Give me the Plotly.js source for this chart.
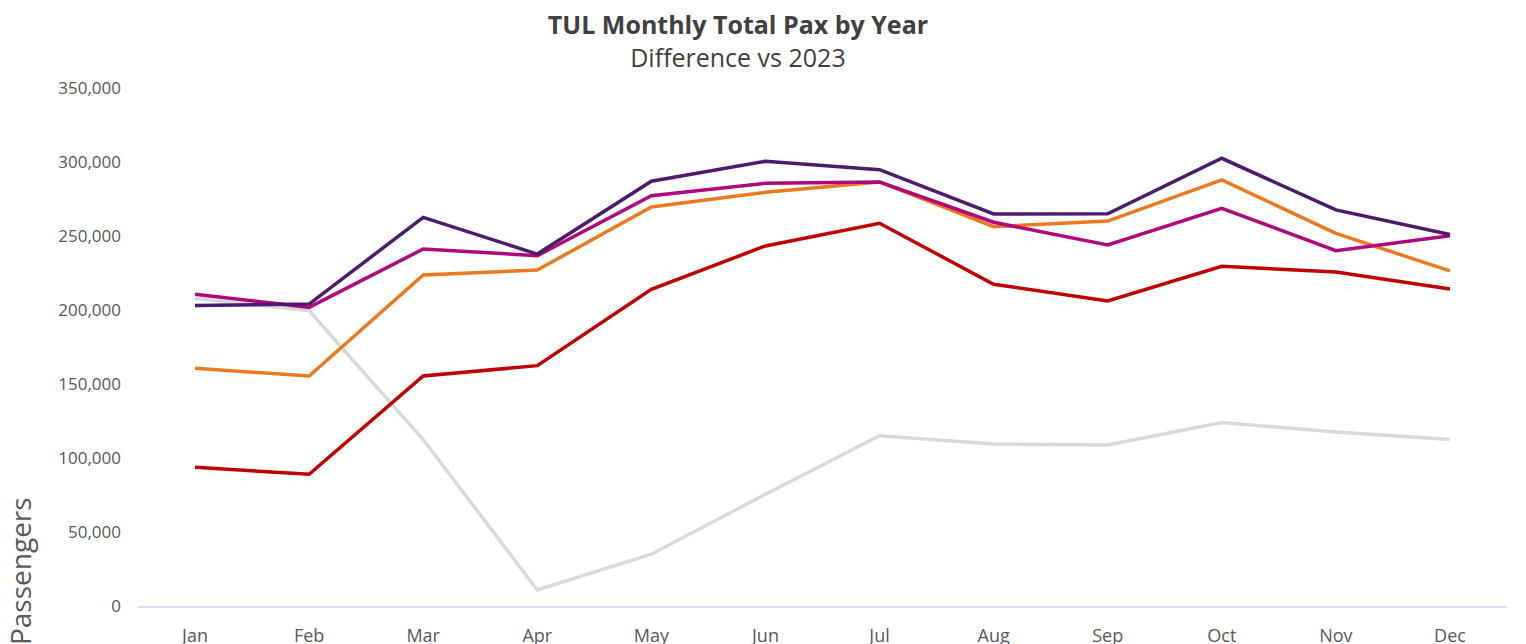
<!DOCTYPE html>
<html>
<head>
<meta charset="utf-8">
<script src="https://cdn.plot.ly/plotly-3.0.1.min.js"></script>
<style>html,body{margin:0;padding:0;background:#fff;}#chart{width:1526px;height:644px;}</style>
</head>
<body>
<div id="chart"></div>
<script>
const months = ["Jan","Feb","Mar","Apr","May","Jun","Jul","Aug","Sep","Oct","Nov","Dec"];
const seriesGray    = [208000, 199500, 112500, 10800, 35000, 75500, 115000, 109500, 108800, 124000, 117500, 112500];
const seriesRed     = [93700, 89000, 155400, 162400, 214000, 243300, 258600, 217400, 206100, 229500, 225700, 214200];
const seriesOrange  = [160600, 155400, 223700, 227000, 269600, 279500, 286500, 256300, 260100, 287900, 251800, 226400];
const seriesMagenta = [210600, 201800, 241200, 236700, 277200, 285600, 286500, 259300, 243900, 268700, 240100, 250200];
const seriesPurple  = [203000, 204000, 262600, 237800, 287000, 300500, 294800, 264900, 265000, 302500, 267600, 251000];
const yTicks = [0, 50000, 100000, 150000, 200000, 250000, 300000, 350000];

const colors = {gray:"#d9d9d9", red:"#c00000", orange:"#eb7a1e", magenta:"#b0087a", purple:"#4b1c6e"};
function line(y, color){
  return {x: months, y: y, type:"scatter", mode:"lines", line:{color:color, width:3.5}, hoverinfo:"x+y", showlegend:false};
}
const data = [
  line(seriesGray, colors.gray),
  line(seriesRed, colors.red),
  line(seriesOrange, colors.orange),
  line(seriesMagenta, colors.magenta),
  line(seriesPurple, colors.purple)
];
const font = "Open Sans, Noto Sans, sans-serif";
const layout = {
  width:1526, height:644,
  margin:{l:138, r:19, t:88, b:38},
  paper_bgcolor:"#fff", plot_bgcolor:"#fff",
  font:{family:font, color:"#595959"},
  title:{
    text:"<b>TUL Monthly Total Pax by Year</b><br>Difference vs 2023",
    font:{family:font, size:25, color:"#404040"},
    x:0.4836, xref:"container", xanchor:"center",
    y:0.947, yref:"container", yanchor:"top"
  },
  xaxis:{
    type:"category", range:[-0.5, 11.5],
    showgrid:false, zeroline:false,
    showline:true, linecolor:"#dcdaf5", linewidth:1.5,
    ticks:"", ticklabelstandoff:13,
    tickfont:{family:font, size:18, color:"#595959"}
  },
  yaxis:{
    range:[0, 350000], tickvals:yTicks, tickformat:",",
    showgrid:false, zeroline:false, showline:false,
    ticks:"", ticklabelstandoff:16,
    tickfont:{family:font, size:17, color:"#595959"}
  },
  annotations:[{
    text:"Passengers", textangle:-90, showarrow:false,
    xref:"paper", yref:"paper",
    x:-0.086, y:0.068, xanchor:"center", yanchor:"middle",
    font:{family:font, size:28, color:"#595959"}
  }]
};
Plotly.newPlot("chart", data, layout, {displayModeBar:false, staticPlot:true});
</script>
</body>
</html>
